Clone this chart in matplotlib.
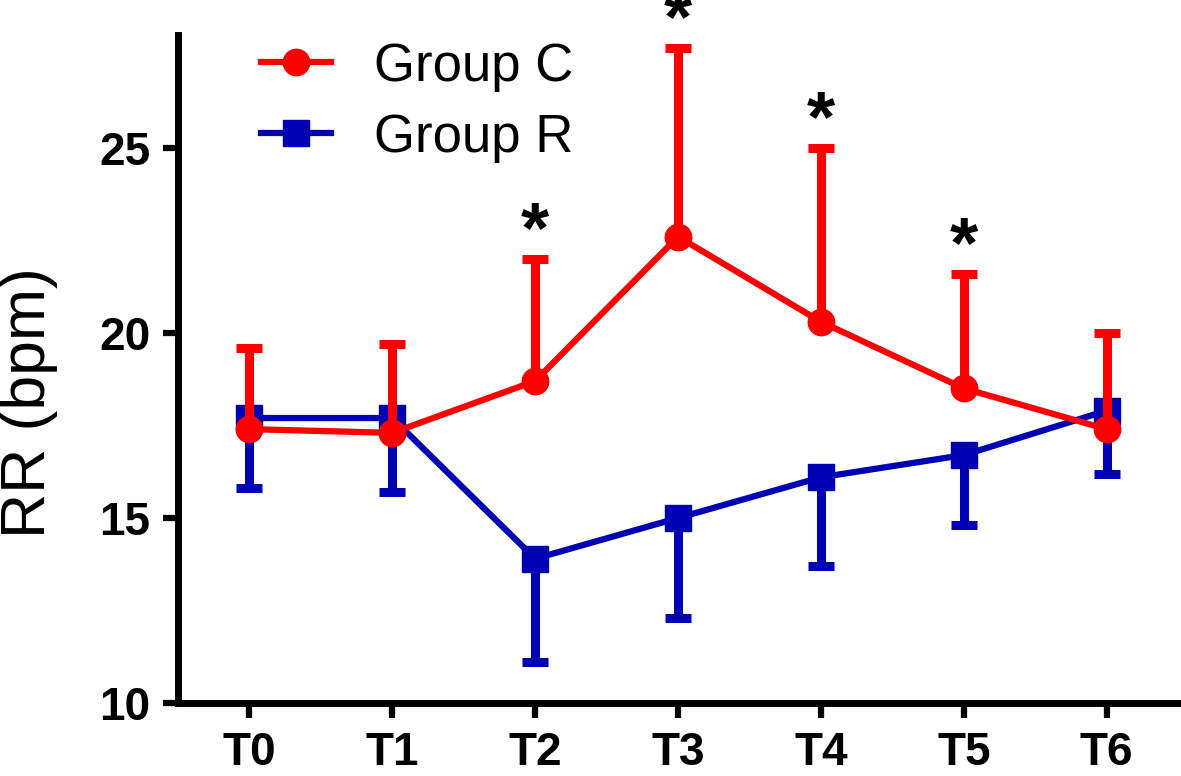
import numpy as np
import matplotlib
matplotlib.use('Agg')
import matplotlib.pyplot as plt
from matplotlib.lines import Line2D

plt.rcParams['font.family'] = ['Liberation Sans', 'DejaVu Sans']

# time points and mean values
time_points = ['T0', 'T1', 'T2', 'T3', 'T4', 'T5', 'T6']
group_c = [17.4, 17.3, 18.7, 22.6, 20.3, 18.5, 17.4]
group_c_sd = [2.2, 2.4, 3.3, 5.1, 4.7, 3.1, 2.6]
group_r = [17.7, 17.7, 13.9, 15.0, 16.1, 16.7, 17.9]
group_r_sd = [1.9, 2.0, 2.8, 2.7, 2.4, 1.9, 1.7]
# time points marked as significant
signif = ['T2', 'T3', 'T4', 'T5']

red = '#ff0000'
blue = '#0000b4'

x = np.arange(len(time_points))

fig = plt.figure(figsize=(11.81, 7.76), dpi=100)
ax = fig.add_axes([0.1507, 0.094, 0.8493, 0.861])

# one-sided error bars: group C upward, group R downward
ax.errorbar(x, group_r, yerr=[group_r_sd, np.zeros(len(x))], color=blue, marker='s',
            markersize=19, linewidth=4.5, elinewidth=6.5, capsize=9.5, capthick=6.5,
            zorder=3)
ax.errorbar(x, group_c, yerr=[np.zeros(len(x)), group_c_sd], color=red, marker='o',
            markersize=19, linewidth=4.5, elinewidth=6.5, capsize=9.5, capthick=6.5,
            zorder=4)

# significance stars above the group C caps
for t in signif:
    i = time_points.index(t)
    ax.annotate('*', xy=(x[i], group_c[i] + group_c_sd[i]), xytext=(0, 5),
                textcoords='offset points', ha='center', va='baseline',
                fontsize=52, fontweight='bold', color='black', annotation_clip=False)

ax.set_xlim(-0.5, 6.52)
ax.set_ylim(10, 28.05)
ax.set_xticks(x)
ax.set_xticklabels(time_points)
ax.set_yticks([10, 15, 20, 25])

for side in ['top', 'right']:
    ax.spines[side].set_visible(False)
for side in ['left', 'bottom']:
    ax.spines[side].set_linewidth(5)

ax.tick_params(axis='both', width=4.5, length=11, labelsize=33, pad=9)
for lab in ax.get_xticklabels() + ax.get_yticklabels():
    lab.set_fontweight('bold')

ax.set_ylabel('RR (bpm)', fontsize=45)
ax.yaxis.set_label_coords(-0.12, 0.449)

handles = [Line2D([], [], color=red, marker='o', markersize=19, linewidth=4.5),
           Line2D([], [], color=blue, marker='s', markersize=19, linewidth=4.5)]
ax.legend(handles, ['Group C', 'Group R'], loc='upper left', bbox_to_anchor=(0.035, 1.061),
          frameon=False, fontsize=38, handlelength=1.34, handletextpad=0.8,
          labelspacing=0.4)

fig.savefig('out.png', dpi=100)
